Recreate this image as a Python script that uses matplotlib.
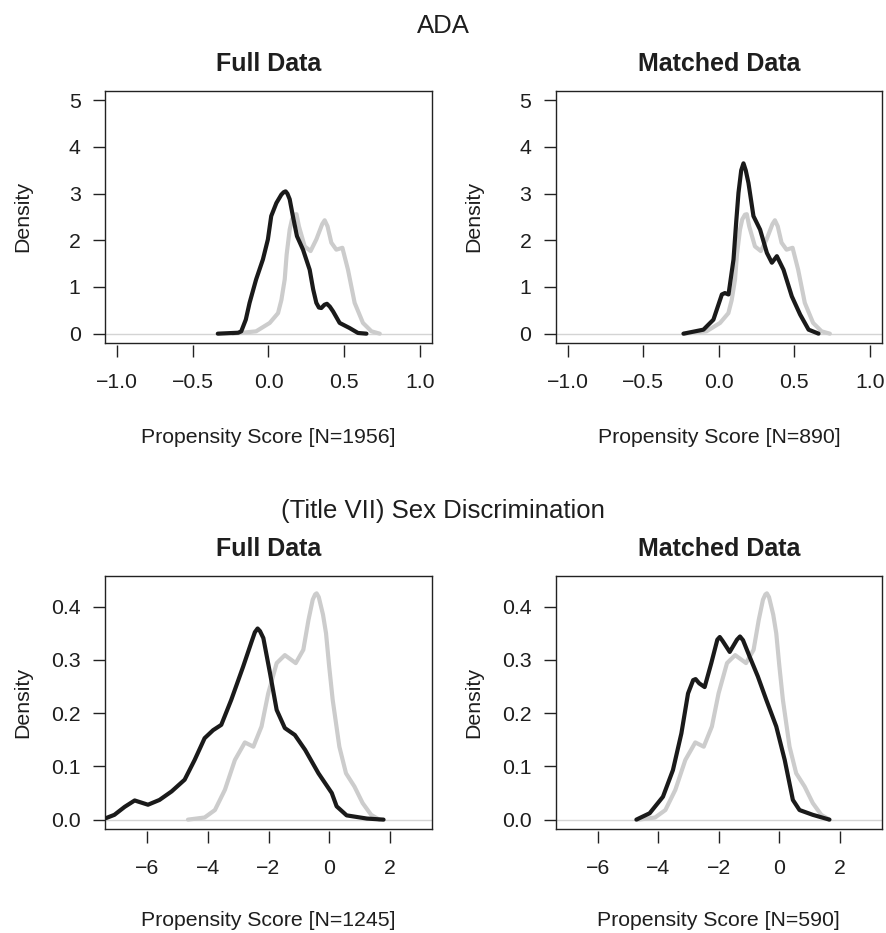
import numpy as np
import matplotlib
matplotlib.use("Agg")
from matplotlib import pyplot as plt

plt.rcParams['font.family'] = ['Liberation Sans', 'DejaVu Sans']

# ADA, full data (control = black)
ada_full_x = [-0.335, -0.2, -0.18, -0.15, -0.125, -0.082, -0.037, -0.004, 0.018, 0.052,
              0.085, 0.1, 0.113, 0.125, 0.14, 0.161, 0.188, 0.228, 0.272, 0.295,
              0.316, 0.333, 0.349, 0.37, 0.386, 0.405, 0.426, 0.47, 0.536, 0.591,
              0.647]
ada_full_y = [0.0, 0.02, 0.05, 0.3, 0.66, 1.16, 1.59, 2.02, 2.52, 2.8,
              2.98, 3.03, 3.05, 3.0, 2.88, 2.52, 2.09, 1.8, 1.37, 0.95,
              0.66, 0.56, 0.55, 0.62, 0.64, 0.58, 0.48, 0.23, 0.12, 0.015,
              0.0]

# ADA, matched data (control = black)
ada_match_x = [-0.234, -0.102, -0.036, 0.02, 0.04, 0.064, 0.097, 0.115, 0.13, 0.148,
               0.163, 0.178, 0.196, 0.229, 0.273, 0.318, 0.351, 0.384, 0.428, 0.483,
               0.538, 0.594, 0.66]
ada_match_y = [0.0, 0.086, 0.3, 0.84, 0.87, 0.84, 1.59, 2.4, 3.02, 3.5,
               3.65, 3.5, 3.23, 2.52, 2.23, 1.73, 1.52, 1.66, 1.37, 0.8,
               0.41, 0.086, 0.0]

# ADA, treated group (gray, same in both panels)
ada_treat_x = [-0.235, -0.082, 0.008, 0.063, 0.085, 0.107, 0.12, 0.14, 0.155, 0.173,
               0.185, 0.201, 0.239, 0.278, 0.316, 0.355, 0.371, 0.39, 0.415, 0.448,
               0.488, 0.525, 0.569, 0.624, 0.68, 0.735]
ada_treat_y = [0.0, 0.05, 0.23, 0.44, 0.72, 1.16, 1.7, 2.23, 2.45, 2.55,
               2.56, 2.3, 1.87, 1.77, 2.02, 2.35, 2.43, 2.3, 1.95, 1.8,
               1.84, 1.37, 0.66, 0.23, 0.05, 0.0]

# Sex discrimination, full data (control = black)
sex_full_x = [-7.36, -7.09, -6.75, -6.42, -5.98, -5.6, -5.2, -4.77, -4.44, -4.11,
              -3.83, -3.56, -3.23, -2.84, -2.56, -2.45, -2.36, -2.28, -2.17, -1.95,
              -1.73, -1.46, -1.13, -0.79, -0.35, 0.09, 0.25, 0.58, 1.25, 1.8]
sex_full_y = [0.003, 0.009, 0.024, 0.036, 0.028, 0.037, 0.053, 0.075, 0.112, 0.153,
              0.168, 0.178, 0.225, 0.287, 0.334, 0.352, 0.359, 0.354, 0.341, 0.275,
              0.206, 0.172, 0.159, 0.131, 0.087, 0.05, 0.025, 0.008, 0.002, 0.0]

# Sex discrimination, matched data (control = black)
sex_match_x = [-4.73, -4.29, -3.85, -3.52, -3.24, -3.02, -2.85, -2.77, -2.65, -2.47,
               -2.25, -2.05, -1.97, -1.88, -1.64, -1.4, -1.3, -1.2, -0.98, -0.71,
               -0.43, -0.1, 0.18, 0.45, 0.67, 1.11, 1.66]
sex_match_y = [0.0, 0.012, 0.043, 0.093, 0.162, 0.237, 0.262, 0.264, 0.256, 0.249,
               0.294, 0.338, 0.343, 0.336, 0.315, 0.338, 0.344, 0.337, 0.306, 0.269,
               0.225, 0.175, 0.112, 0.037, 0.018, 0.009, 0.0]

# Sex discrimination, treated group (gray)
sex_treat_x = [-4.66, -4.11, -3.77, -3.44, -3.11, -2.78, -2.5, -2.23, -2.01, -1.73,
               -1.46, -1.1, -0.85, -0.68, -0.54, -0.46, -0.41, -0.34, -0.2, -0.1,
               0.0, 0.12, 0.34, 0.56, 0.84, 1.11, 1.39, 1.66]
sex_treat_y = [0.0, 0.004, 0.018, 0.056, 0.112, 0.145, 0.137, 0.175, 0.237, 0.294,
               0.309, 0.294, 0.319, 0.375, 0.413, 0.423, 0.425, 0.418, 0.385, 0.35,
               0.29, 0.225, 0.137, 0.087, 0.062, 0.031, 0.009, 0.0]

ada_xticks = [-1.0, -0.5, 0.0, 0.5, 1.0]
ada_yticks = [0, 1, 2, 3, 4, 5]
sex_xticks = [-6, -4, -2, 0, 2]
sex_yticks = [0.0, 0.1, 0.2, 0.3, 0.4]

W, H = 886, 933
fig = plt.figure(figsize=(W / 100, H / 100), dpi=100)

FS = 15.3
BLACK = '#1a1a1a'
GRAY = '#cccccc'
TXT = '#1e1e1e'


def px_axes(left, top, right, bottom):
    return fig.add_axes([left / W, 1 - bottom / H, (right - left) / W, (bottom - top) / H])


def panel(ax, cx, cy, tx, ty, xlim, ylim, xticks, yticks, yfmt, title, xlabel):
    ax.axhline(0, color='#d4d4d4', lw=1.0, zorder=1)
    ax.plot(tx, ty, color=GRAY, lw=3.0, solid_capstyle='round', solid_joinstyle='round', zorder=2)
    ax.plot(cx, cy, color=BLACK, lw=3.0, solid_capstyle='round', solid_joinstyle='round', zorder=3)
    ax.set_xlim(xlim)
    ax.set_ylim(ylim)
    for s in ax.spines.values():
        s.set_color('#222222')
        s.set_linewidth(1.0)
    ax.set_yticks(yticks)
    ax.set_yticklabels([yfmt.format(v) for v in yticks])
    ax.tick_params(axis='y', direction='out', length=8.6, width=1.0, pad=9,
                   labelsize=FS, color='#222222', labelcolor=TXT)
    ax.set_xticks([])
    sec = ax.secondary_xaxis(-0.008)
    sec.spines['bottom'].set_visible(False)
    sec.set_xticks(xticks)
    sec.set_xticklabels([('{:.1f}' if isinstance(v, float) else '{}').format(v).replace('-', '\u2212')
                         for v in xticks])
    sec.tick_params(axis='x', direction='out', length=8.6, width=1.0, pad=11.5,
                    labelsize=FS, color='#222222', labelcolor=TXT)
    ax.text(0.5, 1.107, title, transform=ax.transAxes, ha='center', va='center',
            fontsize=18, fontweight='bold', color=TXT)
    ax.text(-0.251, 0.5, 'Density', transform=ax.transAxes, ha='center', va='center',
            rotation=90, fontsize=FS, color=TXT)
    ax.text(0.5, xlabel[1], xlabel[0], transform=ax.transAxes, ha='center', va='center',
            fontsize=FS, color=TXT)


ax1 = px_axes(105, 91, 432, 343)
ax2 = px_axes(555.7, 91, 882, 343)
ax3 = px_axes(105, 576, 432, 829)
ax4 = px_axes(555.7, 576, 882, 829)

panel(ax1, ada_full_x, ada_full_y, ada_treat_x, ada_treat_y, (-1.08, 1.08), (-0.2, 5.2),
      ada_xticks, ada_yticks, '{}', 'Full Data', ('Propensity Score [N=1956]', -0.375))
panel(ax2, ada_match_x, ada_match_y, ada_treat_x, ada_treat_y, (-1.08, 1.08), (-0.2, 5.2),
      ada_xticks, ada_yticks, '{}', 'Matched Data', ('Propensity Score [N=890]', -0.375))
panel(ax3, sex_full_x, sex_full_y, sex_treat_x, sex_treat_y, (-7.4, 3.4), (-0.0176, 0.4576),
      sex_xticks, sex_yticks, '{:.1f}', 'Full Data', ('Propensity Score [N=1245]', -0.36))
panel(ax4, sex_match_x, sex_match_y, sex_treat_x, sex_treat_y, (-7.4, 3.4), (-0.0176, 0.4576),
      sex_xticks, sex_yticks, '{:.1f}', 'Matched Data', ('Propensity Score [N=590]', -0.36))

fig.text(443 / W, 1 - 26 / H, 'ADA', ha='center', va='center', fontsize=18.5, color=TXT)
fig.text(443 / W, 1 - 511 / H, '(Title VII) Sex Discrimination', ha='center', va='center',
         fontsize=18.5, color=TXT)

fig.savefig('out.png', dpi=100, facecolor='white')
